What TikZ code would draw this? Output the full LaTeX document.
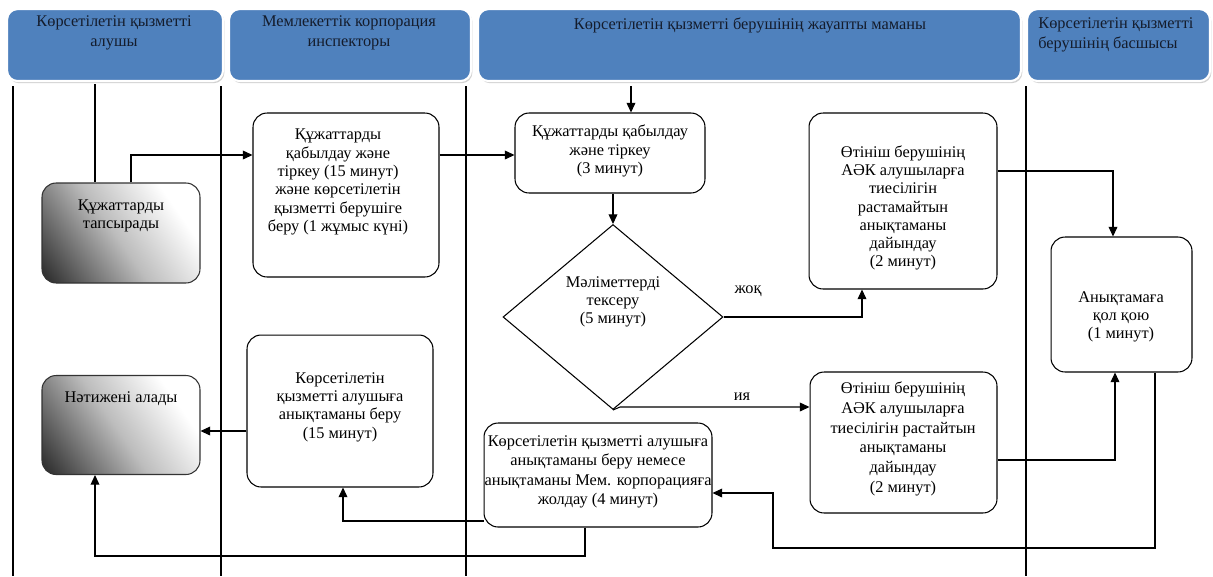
\documentclass[tikz,border=0pt]{standalone}
\usepackage{fontspec}
\setmainfont{Liberation Serif}
\usetikzlibrary{shapes.geometric,arrows.meta,shadows}
\definecolor{hdr}{HTML}{4F81BD}
\definecolor{hdrtxt}{HTML}{141C2C}
\pgfdeclareverticalshading{gradbox}{100bp}{color(0bp)=(black!80); color(18bp)=(black!80); color(48bp)=(black!26); color(72bp)=(white); color(100bp)=(white)}
\begin{document}
\begin{tikzpicture}[x=0.02cm,y=-0.02cm,
  font=\fontsize{9.3}{10.4}\selectfont,
  hdrbox/.style={draw=white, line width=1.2pt, fill=hdr, rounded corners=6pt,
    drop shadow={shadow xshift=0.8pt,shadow yshift=-1.2pt,fill=black!35}},
  hdrtext/.style={text=hdrtxt, align=center, inner sep=0pt, font=\fontsize{9.3}{11.3}\selectfont},
  box/.style={draw=black, line width=0.6pt, rounded corners=8pt, fill=white, inner sep=0pt},
  gbox/.style={draw=black!80, line width=0.6pt, rounded corners=8pt, inner sep=0pt, shade, shading=gradbox, shading angle=-55},
  txt/.style={align=center, inner sep=0pt},
  lane/.style={draw=black, line width=0.6pt},
  conn/.style={draw=black, line width=0.6pt},
  arr/.style={conn, -{Triangle[length=5.5pt,width=5pt]}},
]
\useasboundingbox (0,0) rectangle (1213,576);

% lane separators
\coordinate (l1) at (13,86);
\coordinate (l2) at (221,86);
\coordinate (l3) at (466,86);
\coordinate (l4) at (1026,86);
\foreach \l in {l1,l2,l3,l4} \draw[lane] (\l) -- (\l |- 0,576);

% headers
\node[hdrbox, minimum width=4.32cm, minimum height=1.44cm, anchor=north west] (h1) at (6,8) {};
\node[hdrbox, minimum width=4.84cm, minimum height=1.44cm, anchor=north west] (h2) at (228,8) {};
\node[hdrbox, minimum width=10.86cm, minimum height=1.44cm, anchor=north west] (h3) at (477,8) {};
\node[hdrbox, minimum width=3.66cm, minimum height=1.44cm, anchor=north west] (h4) at (1026,8) {};
\node[hdrtext] (h1t) at (114,33) {Көрсетілетін қызметті\\алушы};
\node[hdrtext] (h2t) at (349,33) {Мемлекеттік корпорация\\инспекторы};
\node[hdrtext] (h3t) at (750,25) {Көрсетілетін қызметті берушінің жауапты маманы};
\node[hdrtext, align=left, anchor=west] (h4t) at (1038,35) {Көрсетілетін қызметті\\берушінің басшысы};

% boxes
\node[gbox, minimum width=3.16cm, minimum height=2cm] (sub) at (121,233) {};
\node[txt] (subt) at (121,216) {Құжаттарды\\тапсырады};
\node[gbox, minimum width=3.16cm, minimum height=1.98cm] (res) at (121,425) {};
\node[txt] (rest) at (121,399) {Нәтижені алады};

\node[box, minimum width=3.72cm, minimum height=3.28cm] (acc) at (346,195) {};
\node[txt] (acct) at (338,182) {Құжаттарды\\қабылдау және\\тіркеу (15 минут)\\және көрсетілетін\\қызметті берушіге\\беру (1 жұмыс күні)};

\node[box, minimum width=3.72cm, minimum height=3.04cm] (give) at (340,411) {};
\node[txt] (givet) at (340,407) {Көрсетілетін\\қызметті алушыға\\анықтаманы беру\\(15 минут)};

\node[box, minimum width=3.8cm, minimum height=1.6cm] (reg) at (610,153) {};
\node[txt] (regt) at (610,151) {Құжаттарды қабылдау\\және тіркеу\\(3 минут)};

\node[draw, diamond, line width=0.6pt, minimum width=4.4cm, minimum height=3.7cm, inner sep=0pt] (chk) at (613,317) {};
\node[txt] (chkt) at (613,302) {Мәліметтерді\\тексеру\\(5 минут)};

\node[box, minimum width=3.76cm, minimum height=3.52cm] (no) at (903,201) {};
\node[txt] (not) at (903,208) {Өтініш берушінің\\АӘК алушыларға\\тиесілігін\\растамайтын\\анықтаманы\\дайындау\\(2 минут)};

\node[box, minimum width=2.82cm, minimum height=2.7cm] (sign) at (1121.5,304.5) {};
\node[txt] (signt) at (1121,317) {Анықтамаға\\қол қою\\(1 минут)};

\node[box, minimum width=3.74cm, minimum height=2.82cm] (yes) at (903.5,442.5) {};
\node[txt, font=\fontsize{9.3}{11.2}\selectfont] (yest) at (903,439) {Өтініш берушінің\\АӘК алушыларға\\тиесілігін растайтын\\анықтаманы\\дайындау\\(2 минут)};

\node[box, minimum width=4.56cm, minimum height=2.08cm] (send) at (598,475) {};
\node[txt, font=\fontsize{9.3}{11}\selectfont] (sendt) at (598,472) {Көрсетілетін қызметті алушыға\\анықтаманы беру немесе\\анықтаманы Мем. корпорацияға\\жолдау (4 минут)};

% labels
\node[inner sep=0pt] (lno) at (748,291) {жоқ};
\node[inner sep=0pt] (lyes) at (742,397) {ия};

% connectors
\coordinate (c1) at (95,84);
\draw[conn] (c1) -- (c1 |- sub.north);

\coordinate (c2) at (131,155);
\draw[arr] (c2 |- sub.north) -- (c2) -- (c2 -| acc.west);
\draw[arr] (acc.east |- c2) -- (reg.west |- c2);

\coordinate (c3) at (631,86);
\draw[arr] (c3) -- (c3 |- reg.north);

\draw[arr] (reg.south -| chk.north) -- (chk.north);

\coordinate (c4) at (862,317);
\draw[arr] (chk.east) -- (c4) -- (c4 |- no.south);

\coordinate (c5) at (620,407);
\draw[arr] (chk.south) -- (c5) -- (c5 -| yes.west);

\coordinate (c6) at (1113,171);
\draw[arr] (no.east |- c6) -- (c6) -- (c6 |- sign.north);

\coordinate (c7) at (1115,460);
\draw[arr] (yes.east |- c7) -- (c7) -- (c7 |- sign.south);

\coordinate (c8) at (1155,548);
\coordinate (c9) at (773,493);
\draw[arr] (c8 |- sign.south) -- (c8) -- (c8 -| c9) -- (c9) -- (c9 -| send.east);

\coordinate (c10) at (585,556);
\coordinate (c11) at (95,556);
\draw[arr] (c10 |- send.south) -- (c10) -- (c11) -- (c11 |- res.south);

\coordinate (c12) at (343,521);
\draw[arr] (send.west |- c12) -- (c12) -- (c12 |- give.south);

\coordinate (c13) at (240,431);
\draw[arr] (give.west |- c13) -- (res.east |- c13);
\end{tikzpicture}
\end{document}
